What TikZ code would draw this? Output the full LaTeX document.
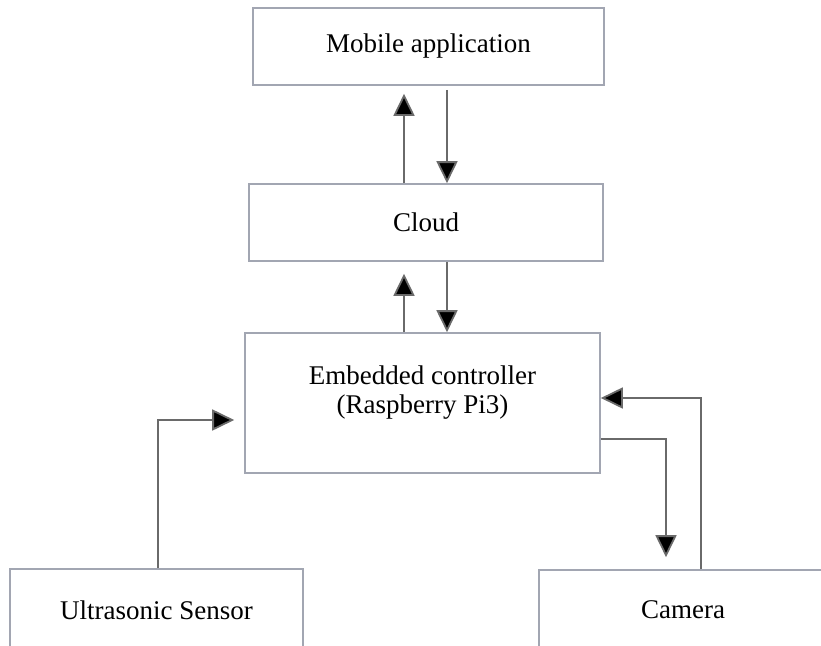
\documentclass[tikz,border=0pt]{standalone}
\usepackage{fontspec}
\setmainfont{Liberation Serif}
\usetikzlibrary{arrows.meta}
\definecolor{boxline}{HTML}{A2A6B2}
\definecolor{arrline}{HTML}{6A6A6A}
\tikzset{
  blk/.style={draw=boxline, line width=1.6pt, fill=white, inner sep=0pt, font=\fontsize{27}{29}\selectfont, text=black},
  txt/.style={inner sep=0pt, font=\fontsize{27}{29}\selectfont, text=black, align=center},
  arr/.style={draw=arrline, line width=1.8pt, -{Triangle[length=22pt,width=21pt,fill=black]}}
}
\begin{document}
\begin{tikzpicture}[x=1pt,y=-1pt]
\useasboundingbox (0,0) rectangle (821,645);
\node[blk, minimum width=351pt, minimum height=77pt] (mob) at (428.5,46.5) {Mobile application};
\node[blk, minimum width=354pt, minimum height=77pt] (cloud) at (426,222.5) {Cloud};
\node[blk, minimum width=355pt, minimum height=140pt] (emb) at (422.5,403) {};
\node[txt] (embt) at (422.5,393) {Embedded controller\\(Raspberry Pi3)};
\node[blk, minimum width=293pt, minimum height=82pt] (us) at (156.5,610) {Ultrasonic Sensor};
\node[blk, minimum width=320pt, minimum height=82pt] (cam) at (699,611) {};
\node[txt] (camt) at (683,610) {Camera};
% mobile <-> cloud
\draw[arr, shorten >=8pt] (cloud.north -| 404,0) -- (mob.south -| 404,0);
\draw[arr, shorten <=4pt] (mob.south -| 447,0) -- (cloud.north -| 447,0);
% cloud <-> embedded
\draw[arr, shorten >=12pt] (emb.north -| 404,0) -- (cloud.south -| 404,0);
\draw[arr] (cloud.south -| 447,0) -- (emb.north -| 447,0);
% ultrasonic -> embedded
\draw[arr, shorten >=10pt] (us.north -| 158,0) |- (emb.west |- 0,420);
% embedded -> camera
\draw[arr, shorten >=12pt] (emb.east |- 0,439) -| (cam.north -| 666,0);
% camera -> embedded
\draw[arr] (cam.north -| 701,0) |- (emb.east |- 0,398);
\end{tikzpicture}
\end{document}
